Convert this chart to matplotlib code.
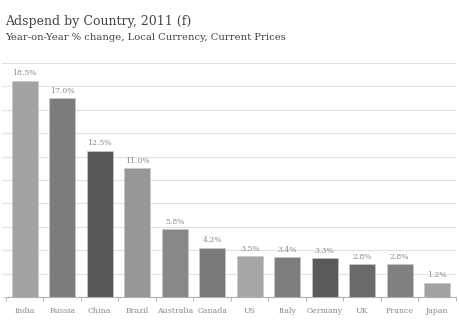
import matplotlib.pyplot as plt
import numpy as np

countries = ["India", "Russia", "China", "Brazil", "Australia", "Canada",
             "US", "Italy", "Germany", "UK", "France", "Japan"]
growth = [18.5, 17.0, 12.5, 11.0, 5.8, 4.2, 3.5, 3.4, 3.3, 2.8, 2.8, 1.2]
bar_colors = ["#a3a3a3", "#7c7c7c", "#585858", "#979797", "#888888", "#7a7a7a",
              "#a6a6a6", "#7d7d7d", "#5a5a5a", "#6a6a6a", "#808080", "#a2a2a2"]

plt.rcParams["font.family"] = ["DejaVu Serif"]

fig = plt.figure(figsize=(4.6, 3.25), dpi=100)
ax = fig.add_axes([6 / 460, 1 - 297 / 325, 450 / 460, 234 / 325])

x = np.arange(len(countries))
bars = ax.bar(x, growth, width=0.7, color=bar_colors, edgecolor="#c8c8c8",
              linewidth=0.5, zorder=3)

# value labels above the bars
for xi, v in zip(x, growth):
    ax.text(xi, v + 0.3, f"{v:.1f}%", ha="center", va="bottom",
            fontsize=5.6, color="#8a8a8a")

ax.set_xlim(-0.5, len(countries) - 0.5)
ax.set_ylim(0, 20)
ax.set_yticks(np.arange(0, 21, 2))
ax.yaxis.grid(True, color="#e0e0e0", linewidth=0.8, zorder=0)
ax.tick_params(axis="y", length=3, color="#e0e0e0", labelleft=False)

# category labels, ticks between categories
ax.set_xticks(x)
ax.set_xticklabels(countries, fontsize=5.6, color="#8a8a8a")
ax.tick_params(axis="x", which="major", length=0, pad=7)
ax.set_xticks(np.arange(-0.5, len(countries), 1), minor=True)
ax.tick_params(axis="x", which="minor", length=3, color="#b0b0b0")

for side in ["left", "right", "top"]:
    ax.spines[side].set_visible(False)
ax.spines["bottom"].set_color("#b0b0b0")
ax.spines["bottom"].set_linewidth(0.8)

fig.text(5 / 460, 1 - 22 / 325, "Adspend by Country, 2011 (f)",
         fontsize=9, color="#454545", va="center")
fig.text(5 / 460, 1 - 38 / 325, "Year-on-Year % change, Local Currency, Current Prices",
         fontsize=7.2, color="#404040", va="center")

fig.savefig("out.png", dpi=100, facecolor="white")
